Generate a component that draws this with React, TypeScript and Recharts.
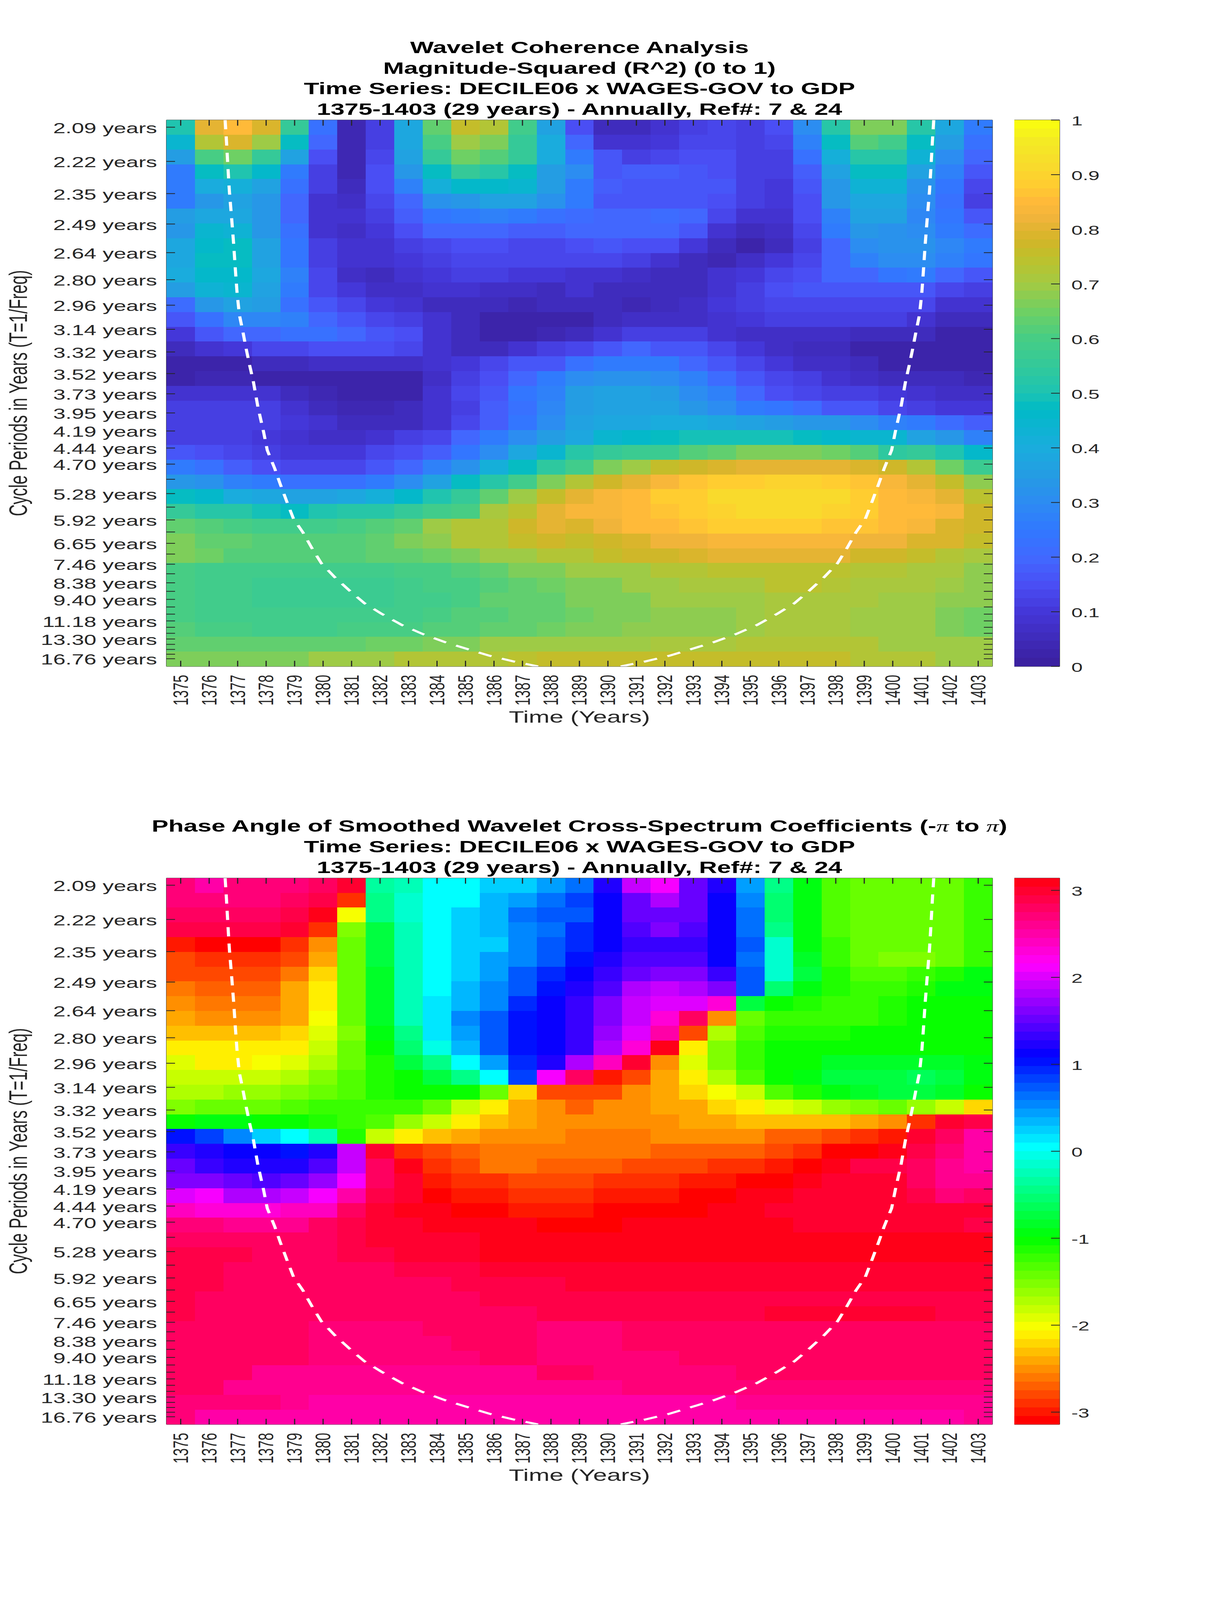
import { ScatterChart, Scatter, XAxis, YAxis, Label } from "recharts";

const years = [1375,1376,1377,1378,1379,1380,1381,1382,1383,1384,1385,1386,1387,1388,1389,1390,1391,1392,1393,1394,1395,1396,1397,1398,1399,1400,1401,1402,1403];

// one tick per wavelet scale, only some of them get a label
const cyclePeriods = [2.094,2.219,2.351,2.491,2.639,2.796,2.962,3.138,3.324,3.523,3.732,3.954,4.189,4.438,4.702,4.981,5.277,5.591,5.924,6.276,6.649,7.044,7.463,7.907,8.378,8.876,9.404,9.963,10.556,11.183,11.848,12.552,13.299,14.09,14.927,15.815,16.756];
const labeledPeriods = ["2.09","2.22","2.35","2.49","2.64","2.80","2.96","3.14","3.32","3.52","3.73","3.95","4.19","4.44","4.70","5.28","5.92","6.65","7.46","8.38","9.40","11.18","13.30","16.76"];

const coherenceTicks = [0,0.1,0.2,0.3,0.4,0.5,0.6,0.7,0.8,0.9,1];
const phaseTicks = [-3,-2,-1,0,1,2,3];

// magnitude-squared coherence, one list per row from the top
const coherenceRows = [
  [.50,.81,.85,.79,.56,.23,.04,.12,.39,.63,.75,.72,.58,.36,.15,.06,.06,.09,.12,.13,.12,.15,.30,.52,.67,.67,.53,.39,.25],
  [.44,.72,.79,.70,.47,.19,.04,.12,.39,.60,.70,.67,.55,.40,.20,.09,.09,.10,.13,.14,.12,.13,.27,.48,.61,.59,.48,.35,.22],
  [.35,.60,.65,.56,.37,.15,.04,.14,.37,.55,.65,.62,.55,.40,.25,.16,.12,.13,.15,.15,.11,.11,.23,.41,.53,.53,.43,.30,.19],
  [.26,.47,.50,.46,.26,.11,.04,.15,.33,.48,.55,.53,.47,.35,.30,.17,.18,.18,.17,.15,.11,.11,.18,.37,.47,.47,.37,.28,.17],
  [.25,.40,.41,.36,.22,.11,.06,.15,.27,.41,.46,.46,.44,.35,.26,.18,.16,.17,.17,.16,.11,.10,.16,.34,.43,.43,.32,.24,.13],
  [.25,.34,.37,.33,.20,.09,.07,.14,.20,.32,.33,.36,.36,.32,.25,.17,.17,.17,.17,.15,.11,.10,.15,.33,.39,.39,.30,.22,.12],
  [.35,.39,.39,.33,.20,.09,.08,.12,.18,.24,.25,.28,.25,.22,.21,.20,.20,.21,.19,.13,.09,.09,.15,.27,.36,.37,.29,.24,.17],
  [.34,.44,.43,.33,.22,.09,.07,.10,.15,.20,.20,.20,.18,.18,.19,.19,.20,.20,.16,.09,.05,.07,.13,.25,.33,.32,.31,.26,.21],
  [.39,.46,.47,.36,.24,.12,.08,.09,.12,.14,.15,.15,.13,.14,.15,.16,.15,.15,.10,.06,.03,.06,.12,.20,.30,.32,.32,.29,.25],
  [.39,.47,.47,.37,.24,.12,.08,.08,.10,.12,.13,.13,.13,.13,.14,.13,.12,.09,.05,.04,.07,.10,.13,.19,.28,.30,.31,.27,.24],
  [.40,.46,.46,.38,.27,.14,.07,.06,.08,.10,.11,.11,.10,.10,.09,.08,.07,.06,.06,.08,.10,.13,.15,.19,.20,.24,.25,.20,.17],
  [.35,.43,.44,.36,.26,.14,.10,.07,.07,.08,.08,.07,.07,.06,.08,.06,.05,.05,.06,.09,.12,.15,.16,.17,.17,.17,.16,.14,.12],
  [.21,.34,.36,.35,.22,.17,.13,.10,.08,.06,.05,.05,.04,.05,.05,.05,.04,.05,.07,.10,.11,.13,.14,.14,.14,.14,.13,.09,.08],
  [.16,.22,.29,.29,.27,.20,.17,.14,.11,.08,.05,.03,.03,.03,.03,.05,.07,.07,.07,.09,.10,.11,.11,.11,.11,.11,.09,.06,.06],
  [.10,.16,.19,.19,.22,.22,.19,.16,.15,.09,.06,.02,.02,.04,.06,.09,.11,.11,.11,.09,.07,.07,.07,.07,.06,.06,.06,.03,.03],
  [.05,.08,.10,.13,.14,.15,.15,.15,.13,.09,.06,.06,.09,.11,.14,.17,.19,.17,.16,.13,.10,.07,.06,.05,.03,.03,.03,.03,.03],
  [.02,.02,.03,.05,.05,.07,.07,.07,.07,.09,.10,.13,.16,.17,.23,.25,.25,.25,.20,.16,.13,.10,.07,.07,.05,.03,.03,.02,.02],
  [.03,.04,.04,.02,.02,.02,.02,.02,.03,.07,.11,.15,.20,.26,.31,.32,.32,.31,.27,.21,.17,.14,.12,.09,.07,.05,.05,.05,.04],
  [.09,.09,.09,.08,.06,.04,.02,.02,.03,.09,.13,.17,.24,.28,.35,.36,.36,.35,.30,.27,.19,.15,.13,.12,.11,.10,.08,.07,.07],
  [.12,.12,.12,.12,.09,.05,.04,.04,.05,.08,.12,.18,.22,.29,.35,.36,.36,.36,.33,.30,.26,.24,.21,.17,.16,.14,.12,.10,.10],
  [.12,.12,.11,.11,.10,.08,.05,.05,.05,.09,.13,.18,.24,.30,.37,.38,.39,.40,.40,.39,.37,.35,.34,.33,.31,.28,.25,.21,.18],
  [.12,.12,.11,.10,.08,.07,.07,.09,.11,.14,.19,.25,.30,.35,.39,.44,.46,.47,.49,.49,.49,.49,.47,.46,.45,.44,.36,.33,.28],
  [.17,.15,.13,.11,.10,.10,.10,.13,.15,.18,.24,.30,.38,.45,.52,.55,.57,.57,.62,.63,.66,.67,.67,.65,.62,.54,.55,.51,.46],
  [.26,.22,.18,.15,.13,.13,.13,.17,.20,.27,.32,.42,.47,.54,.58,.66,.70,.75,.77,.79,.81,.81,.81,.81,.79,.77,.72,.65,.57],
  [.34,.32,.27,.25,.22,.22,.23,.26,.31,.37,.47,.52,.58,.66,.72,.77,.81,.84,.86,.88,.88,.90,.90,.88,.86,.84,.80,.75,.68],
  [.48,.46,.40,.38,.36,.36,.39,.42,.46,.50,.55,.64,.69,.75,.80,.83,.85,.88,.89,.91,.92,.92,.92,.91,.88,.85,.84,.80,.74],
  [.56,.53,.52,.49,.48,.50,.52,.52,.55,.58,.60,.71,.74,.80,.83,.84,.85,.87,.89,.90,.91,.92,.92,.90,.88,.85,.85,.83,.77],
  [.63,.61,.60,.59,.59,.59,.60,.62,.64,.69,.73,.73,.77,.80,.79,.82,.85,.85,.86,.88,.88,.88,.88,.86,.86,.85,.83,.79,.77],
  [.67,.64,.63,.62,.62,.62,.62,.63,.66,.68,.73,.73,.75,.77,.76,.78,.79,.82,.82,.83,.83,.83,.83,.83,.82,.82,.79,.79,.76],
  [.66,.65,.62,.62,.62,.62,.62,.63,.63,.65,.67,.69,.70,.72,.73,.76,.78,.78,.79,.80,.80,.80,.80,.80,.78,.78,.76,.73,.71],
  [.60,.59,.59,.58,.58,.58,.58,.59,.60,.60,.62,.64,.66,.67,.69,.70,.70,.72,.72,.74,.74,.74,.74,.74,.73,.73,.71,.71,.68],
  [.60,.59,.59,.57,.57,.57,.57,.57,.59,.60,.60,.62,.64,.65,.67,.67,.69,.69,.71,.71,.71,.74,.74,.72,.71,.71,.71,.70,.68],
  [.60,.59,.59,.57,.57,.57,.57,.57,.59,.58,.60,.63,.63,.64,.66,.67,.67,.69,.69,.69,.70,.71,.71,.71,.71,.70,.69,.68,.68],
  [.60,.59,.59,.58,.58,.58,.58,.59,.59,.60,.61,.62,.63,.64,.65,.67,.67,.68,.68,.68,.69,.71,.71,.71,.69,.69,.69,.67,.65],
  [.62,.60,.60,.59,.59,.59,.60,.60,.60,.61,.62,.63,.64,.65,.67,.67,.68,.68,.68,.68,.69,.71,.71,.71,.69,.69,.69,.67,.65],
  [.64,.63,.63,.63,.63,.63,.63,.65,.65,.66,.67,.69,.69,.69,.70,.70,.70,.71,.71,.71,.72,.72,.72,.72,.72,.70,.69,.69,.69],
  [.67,.67,.67,.67,.67,.69,.69,.70,.72,.72,.73,.73,.74,.75,.75,.75,.75,.75,.75,.75,.75,.75,.75,.75,.73,.73,.73,.70,.70],
];

// phase angle in radians, same layout
const phaseRows = [
  [2.69,2.55,2.69,2.69,2.69,2.75,3.00,-.31,-.20,0,.09,.20,.26,.40,.59,1.19,1.90,2.09,1.57,1.19,.40,-.47,-.90,-1.31,-1.43,-1.43,-1.43,-1.38,-1.20],
  [2.69,2.69,2.69,2.69,2.75,2.88,-2.94,-.40,-.15,0,.09,.30,.44,.62,.85,1.12,1.57,1.83,1.57,1.12,.55,-.52,-.90,-1.31,-1.43,-1.43,-1.43,-1.38,-1.20],
  [2.75,2.75,2.75,2.75,2.88,3.05,-1.97,-.47,-.15,0,.22,.30,.60,.70,.78,1.12,1.50,1.57,1.50,1.12,.60,-.52,-.90,-1.31,-1.43,-1.43,-1.43,-1.38,-1.20],
  [2.88,2.88,2.88,2.88,3.02,-2.94,-1.57,-.70,-.25,0,.22,.30,.52,.62,.93,1.08,1.40,1.60,1.40,1.10,.60,-.40,-.90,-1.31,-1.43,-1.43,-1.43,-1.38,-1.20],
  [-2.98,-3.14,-3.14,-3.14,-2.94,-2.54,-1.43,-.72,-.20,0,.22,.28,.52,.78,.98,1.10,1.33,1.33,1.33,1.10,.78,-.15,-.95,-1.24,-1.43,-1.43,-1.43,-1.38,-1.20],
  [-2.80,-2.94,-2.94,-2.94,-2.80,-2.40,-1.43,-.72,-.20,0,.22,.44,.52,.78,1.05,1.20,1.40,1.42,1.40,1.10,.62,-.15,-.82,-1.20,-1.38,-1.50,-1.50,-1.45,-1.20],
  [-2.75,-2.80,-2.80,-2.80,-2.62,-2.20,-1.43,-.80,-.25,0,.26,.44,.70,.95,1.15,1.31,1.57,1.66,1.62,1.31,.75,-.13,-.75,-1.10,-1.33,-1.33,-1.20,-1.15,-.97],
  [-2.62,-2.68,-2.68,-2.68,-2.44,-2.13,-1.43,-.80,-.25,.03,.35,.55,.78,1.05,1.20,1.45,1.83,1.90,1.83,1.66,.78,-.52,-.90,-1.10,-1.20,-1.20,-1.10,-.97,-.97],
  [-2.53,-2.62,-2.62,-2.62,-2.44,-2.13,-1.43,-.80,-.25,.10,.38,.55,.90,1.08,1.30,1.65,1.90,2.05,2.05,2.30,-.75,-1.00,-1.12,-1.20,-1.20,-1.10,-1.02,-1.02,-1.02],
  [-2.39,-2.46,-2.46,-2.46,-2.39,-1.98,-1.43,-.80,-.25,.12,.55,.72,1.00,1.13,1.30,1.60,1.90,2.30,2.75,-2.55,-1.40,-1.20,-1.20,-1.20,-1.20,-1.15,-1.05,-1.05,-1.05],
  [-2.30,-2.34,-2.34,-2.34,-2.25,-1.95,-1.57,-.90,-.40,.12,.45,.72,1.00,1.12,1.30,1.75,2.05,2.50,-2.78,-1.72,-1.33,-1.12,-1.12,-1.12,-1.05,-1.05,-1.05,-1.05,-1.05],
  [-2.14,-2.14,-2.14,-2.14,-2.08,-1.80,-1.43,-1.00,-.55,-.09,.38,.72,1.00,1.13,1.30,1.85,2.35,3.12,-2.10,-1.57,-1.22,-1.05,-1.05,-1.05,-1.05,-1.05,-1.05,-1.05,-1.05],
  [-1.95,-2.08,-2.08,-1.98,-1.88,-1.72,-1.43,-1.15,-.78,-.47,0,.45,.98,1.20,1.80,2.40,3.02,-2.52,-1.95,-1.55,-1.22,-1.00,-1.00,-.80,-.80,-.80,-.80,-.80,-.98],
  [-1.82,-1.82,-1.82,-1.82,-1.72,-1.57,-1.30,-1.12,-1.05,-.75,-.47,0,.85,2.09,2.80,-3.00,-2.78,-2.45,-2.08,-1.72,-1.30,-1.05,-.95,-.75,-.70,-.70,-.68,-.75,-.97],
  [-1.72,-1.72,-1.65,-1.65,-1.57,-1.43,-1.30,-1.12,-1.05,-1.05,-1.05,-1.43,-2.25,-2.75,-2.75,-2.75,-2.55,-2.42,-2.23,-2.00,-1.78,-1.30,-1.10,-.90,-.80,-.72,-.72,-.80,-1.03],
  [-1.57,-1.43,-1.43,-1.43,-1.30,-1.25,-1.22,-1.20,-1.20,-1.43,-1.78,-2.07,-2.36,-2.52,-2.68,-2.52,-2.52,-2.44,-2.36,-2.18,-2.09,-1.95,-1.78,-1.60,-1.50,-1.38,-1.60,-1.83,-2.20],
  [-1.00,-.97,-.97,-1.00,-1.02,-1.12,-1.22,-1.33,-1.60,-1.85,-2.13,-2.34,-2.42,-2.52,-2.52,-2.52,-2.52,-2.52,-2.42,-2.42,-2.34,-2.34,-2.34,-2.34,-2.42,-2.55,-2.88,3.02,2.88],
  [1.05,.85,.52,.28,.09,-.20,-1.15,-1.80,-2.14,-2.34,-2.42,-2.55,-2.55,-2.55,-2.62,-2.62,-2.62,-2.55,-2.55,-2.55,-2.55,-2.66,-2.66,-2.76,-2.87,-3.00,3.03,2.82,2.55],
  [1.35,1.25,1.15,1.08,1.05,1.20,1.90,3.02,-2.88,-2.76,-2.68,-2.62,-2.62,-2.62,-2.62,-2.62,-2.62,-2.72,-2.72,-2.72,-2.72,-2.82,-2.94,-3.06,-3.14,3.05,2.90,2.72,2.48],
  [1.50,1.35,1.25,1.20,1.20,1.42,1.92,2.82,3.05,-2.90,-2.76,-2.62,-2.62,-2.66,-2.66,-2.66,-2.76,-2.76,-2.76,-2.90,-2.90,-3.00,-3.14,3.05,2.92,2.90,2.82,2.62,2.50],
  [1.65,1.60,1.50,1.45,1.57,1.72,2.15,2.78,2.95,-3.00,-2.90,-2.90,-2.82,-2.80,-2.80,-2.92,-2.92,-2.92,-3.00,-3.00,-3.14,-3.14,3.08,3.00,3.00,3.00,2.78,2.65,2.60],
  [2.05,2.09,1.85,1.83,1.95,2.07,2.48,2.92,3.00,-3.14,-3.02,-3.02,-2.88,-2.85,-2.85,-3.02,-3.02,-3.02,-3.14,-3.14,3.06,3.06,3.03,3.03,3.03,3.00,2.90,2.72,2.78],
  [2.42,2.30,2.27,2.27,2.38,2.45,2.75,3.00,3.08,3.14,-3.14,-3.14,-3.02,-3.00,-3.00,-3.10,-3.10,-3.10,-3.10,3.06,3.06,3.03,3.03,3.03,3.03,3.03,2.95,2.95,2.95],
  [2.72,2.72,2.60,2.60,2.60,2.78,2.85,3.00,3.03,3.06,3.06,3.14,3.14,-3.12,-3.12,-3.12,3.12,3.10,3.08,3.08,3.08,3.08,3.03,3.03,3.03,3.00,3.00,3.00,2.92],
  [2.78,2.78,2.75,2.75,2.75,2.78,2.85,2.98,3.00,3.04,3.04,3.10,3.10,3.12,3.12,3.12,3.12,3.12,3.10,3.10,3.10,3.05,3.05,3.05,3.05,3.05,3.05,3.05,3.05],
  [2.85,2.85,2.88,2.80,2.80,2.80,2.88,2.90,2.97,2.97,2.97,3.05,3.05,3.05,3.05,3.05,3.05,3.05,3.05,3.05,3.05,3.05,3.05,3.05,3.05,3.05,3.05,3.05,3.05],
  [2.88,2.88,2.80,2.80,2.80,2.80,2.82,2.82,2.92,2.92,2.92,3.00,3.00,3.00,3.00,3.00,3.03,3.03,3.03,3.03,3.03,3.03,3.03,3.03,3.03,3.03,3.03,2.98,2.98],
  [2.88,2.88,2.78,2.78,2.78,2.78,2.78,2.78,2.78,2.78,2.88,2.88,2.88,2.90,2.97,2.97,2.97,2.97,2.97,2.97,2.97,2.97,2.97,2.97,2.97,2.97,2.97,2.97,2.97],
  [2.88,2.75,2.75,2.75,2.75,2.75,2.75,2.75,2.75,2.75,2.78,2.85,2.85,2.85,2.85,2.85,2.85,2.93,2.93,2.93,2.93,2.93,2.93,2.93,2.93,2.93,2.93,2.93,2.93],
  [2.88,2.75,2.75,2.75,2.75,2.75,2.75,2.75,2.75,2.75,2.75,2.78,2.78,2.85,2.85,2.85,2.85,2.85,2.85,2.85,2.85,2.95,2.95,2.95,2.95,2.95,2.95,2.85,2.85],
  [2.78,2.78,2.78,2.78,2.78,2.70,2.70,2.70,2.70,2.78,2.78,2.78,2.78,2.70,2.70,2.70,2.82,2.82,2.82,2.82,2.82,2.82,2.82,2.82,2.82,2.82,2.82,2.82,2.82],
  [2.78,2.78,2.78,2.78,2.78,2.68,2.68,2.68,2.68,2.68,2.78,2.76,2.76,2.70,2.70,2.70,2.82,2.82,2.82,2.82,2.82,2.82,2.82,2.82,2.82,2.82,2.82,2.82,2.82],
  [2.78,2.78,2.78,2.78,2.78,2.68,2.68,2.68,2.68,2.68,2.68,2.75,2.75,2.72,2.72,2.72,2.72,2.72,2.82,2.82,2.82,2.82,2.82,2.82,2.82,2.82,2.82,2.82,2.82],
  [2.78,2.78,2.78,2.65,2.65,2.65,2.65,2.65,2.65,2.65,2.65,2.65,2.65,2.75,2.75,2.72,2.72,2.72,2.72,2.72,2.82,2.82,2.82,2.82,2.82,2.82,2.82,2.82,2.82],
  [2.78,2.78,2.65,2.65,2.65,2.65,2.65,2.65,2.60,2.60,2.60,2.60,2.60,2.58,2.58,2.58,2.68,2.68,2.68,2.68,2.68,2.68,2.68,2.68,2.68,2.68,2.68,2.68,2.68],
  [2.72,2.72,2.72,2.72,2.58,2.55,2.55,2.55,2.55,2.55,2.55,2.55,2.55,2.48,2.55,2.55,2.55,2.55,2.55,2.55,2.65,2.65,2.65,2.65,2.65,2.65,2.65,2.65,2.65],
  [2.72,2.50,2.50,2.50,2.50,2.50,2.50,2.50,2.50,2.50,2.50,2.50,2.50,2.47,2.47,2.47,2.47,2.55,2.55,2.55,2.55,2.55,2.55,2.55,2.55,2.55,2.55,2.55,2.58],
];

const coiRowsDown = [0,1.51,3.24,4.83,6.68,8.41,10.13,11.72,13.18,14.4,15.5,16.6,17.7,19.42,21.12,22.36,23.59,24.68,25.91,27,27.92,29,30.02,30.94,31.87,32.72,33.42,34.19,34.8,35.35,35.82,36.28,36.67,37];
const coiLeftYears = [1376.56,1376.61,1376.66,1376.71,1376.79,1376.86,1376.92,1376.98,1377.06,1377.19,1377.3,1377.42,1377.55,1377.71,1377.91,1378.04,1378.3,1378.5,1378.74,1378.96,1379.29,1379.61,1379.94,1380.4,1380.93,1381.45,1382.04,1382.76,1383.49,1384.27,1385.06,1385.85,1386.7,1387.55];
const coiRightYears = [1401.44,1401.39,1401.34,1401.29,1401.21,1401.14,1401.08,1401.02,1400.94,1400.81,1400.7,1400.58,1400.45,1400.29,1400.09,1399.96,1399.7,1399.5,1399.26,1399.04,1398.71,1398.39,1398.06,1397.6,1397.07,1396.55,1395.96,1395.24,1394.51,1393.73,1392.94,1392.15,1391.3,1390.45];

const parulaStops = [
  [0,"#3a1f9c"],[.1,"#4436d8"],[.15,"#4a4ff5"],[.2,"#4169ff"],[.25,"#3078ff"],[.3,"#2d8bf2"],[.35,"#249ce3"],[.4,"#1aacdd"],[.45,"#08b6ce"],[.47,"#00bac6"],[.5,"#1dc3b3"],[.55,"#33c99a"],[.6,"#46cd85"],[.65,"#6fd063"],[.7,"#a3ca43"],[.75,"#bfc02b"],[.78,"#d4b528"],[.82,"#f0b43a"],[.85,"#ffb93a"],[.88,"#ffcc30"],[.92,"#f8dc2b"],[.96,"#f4ea25"],[1,"#faff0c"],
] as [number, string][];

const LEVELS = 64;
const PAGE_H = 6252;
const PLOT_W = 2114;
const PLOT_H = 2135;
const TEXT = "#262626";
const FONT = "'Liberation Sans', Arial, sans-serif";

function hexRgb(h: string) {
  return [1, 3, 5].map((i) => parseInt(h.slice(i, i + 2), 16));
}

function coherenceColor(v: number) {
  const level = Math.min(LEVELS - 1, Math.floor(v * LEVELS));
  const t = (level + 0.5) / LEVELS;
  let i = 0;
  while (i < parulaStops.length - 2 && t > parulaStops[i + 1][0]) i++;
  const [a, ca] = parulaStops[i];
  const [b, cb] = parulaStops[i + 1];
  const f = Math.max(0, Math.min(1, (t - a) / (b - a)));
  const x = hexRgb(ca);
  const y = hexRgb(cb);
  return `rgb(${x.map((c, k) => Math.round(c + (y[k] - c) * f)).join(",")})`;
}

function phaseColor(v: number) {
  const level = Math.min(LEVELS - 1, Math.floor(((v + Math.PI) / (2 * Math.PI)) * LEVELS));
  return `hsl(${(level / LEVELS) * 360},100%,50%)`;
}

function toCells(rows: number[][]) {
  return rows.flatMap((vals, r) => vals.map((value, c) => ({ year: years[c], row: r + 0.5, value })));
}

const coiLeft = coiRowsDown.map((row, i) => ({ year: coiLeftYears[i], row }));
const coiRight = coiRowsDown.map((row, i) => ({ year: coiRightYears[i], row }));
const freqTicks = cyclePeriods.map((p) => 1 / p);

function cellShape(w: number, h: number, color: (v: number) => string) {
  return (p: any) => (
    <rect x={p.cx - w / 2} y={p.cy - h / 2} width={w} height={h} fill={color(p.payload.value)} shapeRendering="crispEdges" />
  );
}

const axisLine = { stroke: "#404040", strokeWidth: 2 };

function BottomTick({ x, y, payload }: any) {
  return (
    <g>
      <line x1={x} x2={x} y1={y} y2={y - 22} stroke={TEXT} strokeWidth={3} />
      <text transform={`translate(${x},${y + 33}) rotate(-90)`} textAnchor="end" dominantBaseline="central" fontSize={54} fontFamily={FONT} fill={TEXT}>
        {payload.value}
      </text>
    </g>
  );
}

function TopTick({ x, y }: any) {
  return <line x1={x} x2={x} y1={y} y2={y + 22} stroke={TEXT} strokeWidth={3} />;
}

function LeftTick({ x, y, payload }: any) {
  const period = (1 / payload.value).toFixed(2);
  return (
    <g>
      <line x1={x} x2={x + 22} y1={y} y2={y} stroke={TEXT} strokeWidth={3} />
      {labeledPeriods.includes(period) && (
        <text x={x - 24} y={y + 3} textAnchor="end" dominantBaseline="central" fontSize={57} fontFamily={FONT} fill={TEXT}>
          {period} years
        </text>
      )}
    </g>
  );
}

function RightTick({ x, y }: any) {
  return <line x1={x} x2={x - 22} y1={y} y2={y} stroke={TEXT} strokeWidth={3} />;
}

function BarTick({ x, y, payload }: any) {
  return (
    <g>
      <line x1={x} x2={x - 22} y1={y} y2={y} stroke={TEXT} strokeWidth={3} />
      <text x={x + 30} y={y + 3} dominantBaseline="central" fontSize={52} fontFamily={FONT} fill={TEXT}>
        {payload.value}
      </text>
    </g>
  );
}

function Heatmap({ top, rows, color }: { top: number; rows: number[][]; color: (v: number) => string }) {
  const height = 2900;
  const coiLine = { stroke: "#ffffff", strokeWidth: 8, strokeDasharray: "36 28" };
  return (
    <div style={{ position: "absolute", left: 0, top }}>
      <ScatterChart width={3125} height={height} margin={{ left: 425, right: 584, top: 468, bottom: height - 470 - PLOT_H }}>
        <YAxis yAxisId="row" dataKey="row" type="number" domain={[0, 37]} reversed hide allowDataOverflow />
        <Scatter xAxisId="x" yAxisId="row" data={toCells(rows)} shape={cellShape(PLOT_W / 29, PLOT_H / 37, color)} isAnimationActive={false} />
        <Scatter xAxisId="x" yAxisId="row" data={coiLeft} line={coiLine} shape={() => null} isAnimationActive={false} />
        <Scatter xAxisId="x" yAxisId="row" data={coiRight} line={coiLine} shape={() => null} isAnimationActive={false} />
        {/* invisible series, only there so the mirrored top axis gets its ticks */}
        <Scatter xAxisId="top" yAxisId="row" data={coiLeft} shape={() => null} isAnimationActive={false} />
        <XAxis xAxisId="x" dataKey="year" type="number" orientation="bottom" domain={[1374.5, 1403.5]} ticks={years} interval={0} height={1} tickSize={0} tickMargin={0} tick={BottomTick} axisLine={axisLine} tickLine={false} allowDataOverflow>
          <Label content={() => (
            <text x={1483} y={2824} textAnchor="middle" fontSize={64} fontFamily={FONT} fill={TEXT}>Time (Years)</text>
          )} />
        </XAxis>
        <XAxis xAxisId="top" dataKey="year" type="number" orientation="top" domain={[1374.5, 1403.5]} ticks={years} interval={0} height={1} tickSize={0} tickMargin={0} tick={TopTick} axisLine={axisLine} tickLine={false} allowDataOverflow />
        <YAxis yAxisId="freq" type="number" orientation="left" domain={[0.05364, 0.48319]} ticks={freqTicks} interval={0} width={1} tickSize={0} tickMargin={0} tick={LeftTick} axisLine={axisLine} tickLine={false} allowDataOverflow>
          <Label content={() => (
            <text transform="translate(69,1536) rotate(-90)" textAnchor="middle" fontSize={64} fontFamily={FONT} fill={TEXT}>Cycle Periods in Years (T=1/Freq)</text>
          )} />
        </YAxis>
        <YAxis yAxisId="freqRight" type="number" orientation="right" domain={[0.05364, 0.48319]} ticks={freqTicks} interval={0} width={1} tickSize={0} tickMargin={0} tick={RightTick} axisLine={axisLine} tickLine={false} allowDataOverflow />
      </ScatterChart>
    </div>
  );
}

function ColorBar({ top, min, max, ticks, color }: { top: number; min: number; max: number; ticks: number[]; color: (v: number) => string }) {
  const step = (max - min) / LEVELS;
  const levels = Array.from({ length: LEVELS }, (_, i) => ({ pos: 0.5, value: min + (i + 0.5) * step }));
  return (
    <div style={{ position: "absolute", left: 2546, top }}>
      <ScatterChart width={400} height={2700} margin={{ left: 49, right: 233, top: 468, bottom: 2700 - 470 - PLOT_H }}>
        <XAxis xAxisId="bar" dataKey="pos" type="number" domain={[0, 1]} hide allowDataOverflow />
        <YAxis yAxisId="bar" dataKey="value" type="number" domain={[min, max]} hide allowDataOverflow />
        <Scatter xAxisId="bar" yAxisId="bar" data={levels} shape={cellShape(116, PLOT_H / LEVELS, color)} isAnimationActive={false} />
        <XAxis xAxisId="b" type="number" orientation="bottom" domain={[0, 1]} height={1} tick={false} tickLine={false} axisLine={axisLine} allowDataOverflow />
        <XAxis xAxisId="t" type="number" orientation="top" domain={[0, 1]} height={1} tick={false} tickLine={false} axisLine={axisLine} allowDataOverflow />
        <YAxis yAxisId="l" type="number" orientation="left" domain={[min, max]} width={1} tick={false} tickLine={false} axisLine={axisLine} allowDataOverflow />
        <YAxis yAxisId="r" type="number" orientation="right" domain={[min, max]} ticks={ticks} interval={0} width={1} tickSize={0} tickMargin={0} tick={BarTick} tickLine={false} axisLine={axisLine} allowDataOverflow />
      </ScatterChart>
    </div>
  );
}

function Title({ top, children }: { top: number; children: any }) {
  return (
    <div style={{ position: "absolute", left: 0, width: 2966, top, textAlign: "center", fontFamily: FONT, fontWeight: "bold", fontSize: 64, lineHeight: "80px", color: "#000", whiteSpace: "pre" }}>
      {children}
    </div>
  );
}

export default function App() {
  const pi = <span style={{ fontFamily: "'Liberation Serif', serif", fontStyle: "italic", fontWeight: "normal" }}>π</span>;
  // the window can come out shorter than the page, squeeze vertically so nothing is cut
  const viewH = Math.min(PAGE_H, window.innerHeight);
  return (
    <div style={{ position: "absolute", left: 0, top: 0, width: 3125, height: viewH, background: "#fff", overflow: "hidden" }}>
      <div style={{ position: "absolute", left: 0, top: 0, width: 3125, height: PAGE_H, transformOrigin: "0 0", transform: `scaleY(${viewH / PAGE_H})` }}>
        <Title top={146}>
          <div>Wavelet Coherence Analysis</div>
          <div>Magnitude-Squared (R^2) (0 to 1)</div>
          <div>Time Series: DECILE06 x WAGES-GOV to GDP</div>
          <div>1375-1403 (29 years) - Annually, Ref#: 7 &amp; 24</div>
        </Title>
        <Heatmap top={0} rows={coherenceRows} color={coherenceColor} />
        <ColorBar top={0} min={0} max={1} ticks={coherenceTicks} color={coherenceColor} />
        <Title top={3188}>
          <div>Phase Angle of Smoothed Wavelet Cross-Spectrum Coefficients (-{pi} to {pi})</div>
          <div>Time Series: DECILE06 x WAGES-GOV to GDP</div>
          <div>1375-1403 (29 years) - Annually, Ref#: 7 &amp; 24</div>
        </Title>
        <Heatmap top={2961.5} rows={phaseRows} color={phaseColor} />
        <ColorBar top={2961.5} min={-Math.PI} max={Math.PI} ticks={phaseTicks} color={phaseColor} />
      </div>
    </div>
  );
}
